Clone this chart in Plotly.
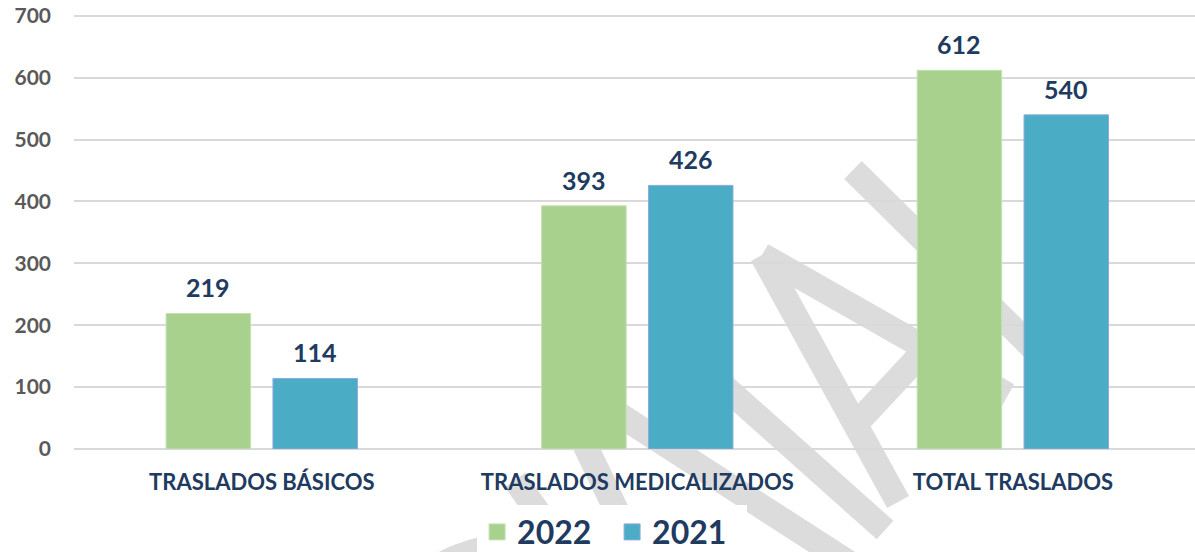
import plotly.graph_objects as go

categories = ["TRASLADOS BÁSICOS", "TRASLADOS MEDICALIZADOS", "TOTAL TRASLADOS"]
years = ["2022", "2021"]
values_2022 = [219, 393, 612]
values_2021 = [114, 426, 540]
y_ticks = [0, 100, 200, 300, 400, 500, 600, 700]

GREEN = "#A9D18E"
BLUE = "#4BACC6"
NAVY = "#203A60"
FONT = "Lato"

# plot area in pixels (used only for the watermark decoration)
PX_L, PX_W, PX_B, PX_H = 74, 1121, 449, 435


def px(x, y):
    return (x - PX_L) / PX_W, (PX_B - y) / PX_H


def stroke(points):
    pts = [px(x, y) for x, y in points]
    d = "M" + " L".join(f"{a:.4f},{b:.4f}" for a, b in pts)
    return dict(type="path", path=d, xref="paper", yref="paper", layer="below",
                line=dict(color="#DCDCDC", width=25))


fig = go.Figure()

for name, vals, color, edge in [("2022", values_2022, GREEN, "#C5E0B4"),
                                ("2021", values_2021, BLUE, "#8FAADC")]:
    fig.add_trace(go.Bar(
        x=categories, y=vals, name=name, showlegend=False,
        marker=dict(color=color, line=dict(color=edge, width=1)),
    ))
    # legend swatch
    fig.add_trace(go.Scatter(
        x=[None], y=[None], mode="markers", name=name,
        marker=dict(symbol="square", size=20, color=color, line=dict(color=edge, width=1)),
    ))

# data labels above bars
annotations = []
for vals, shift in [(values_2022, -53.4), (values_2021, 53.4)]:
    for c, v in zip(categories, vals):
        annotations.append(dict(
            x=c, y=v, text=f"<b>{v}</b>", showarrow=False, xshift=shift, yshift=9,
            yanchor="bottom", font=dict(family=FONT, size=25, color=NAVY),
        ))

# watermark strokes (faint grey, behind the chart)
shapes = [
    stroke([(853, 170), (1050, 365)]),
    stroke([(762, 255), (1008, 395)]),
    stroke([(762, 255), (898, 502)]),
    stroke([(925, 350), (855, 425)]),
    stroke([(700, 365), (885, 530)]),
    stroke([(612, 410), (860, 570)]),
    stroke([(585, 445), (645, 570)]),
    stroke([(515, 480), (580, 570)]),
]
cx0, cy0 = px(520 - 167, 712 - 167)
cx1, cy1 = px(520 + 167, 712 + 167)
shapes.append(dict(type="circle", xref="paper", yref="paper", layer="below",
                   x0=cx0, y0=cy0, x1=cx1, y1=cy1,
                   line=dict(color="#DCDCDC", width=25)))

fig.update_layout(
    width=1195, height=552,
    barmode="group", bargap=0.431, bargroupgap=0.209,
    paper_bgcolor="white", plot_bgcolor="rgba(0,0,0,0)",
    margin=dict(l=74, r=0, t=14, b=103, autoexpand=False),
    font=dict(family=FONT),
    xaxis=dict(
        range=[-0.5, 2.485], showgrid=False, showline=False, zeroline=False,
        automargin=False,
        tickfont=dict(family=FONT, size=22, color=NAVY, weight="bold"), ticklabelstandoff=18,
    ),
    yaxis=dict(
        range=[0, 703], tickvals=y_ticks, showgrid=True, gridcolor="#D9D9D9", gridwidth=1.5,
        zeroline=True, zerolinecolor="#D9D9D9", zerolinewidth=1.5, showline=False,
        automargin=False, ticklabeloverflow="allow",
        tickfont=dict(family=FONT, size=21, color="#595959", weight="bold"), ticklabelstandoff=22,
    ),
    legend=dict(
        orientation="h", x=0.48, xanchor="center", y=-0.191, yanchor="middle",
        font=dict(family=FONT, size=32, color=NAVY, weight="bold"),
        entrywidth=90, itemwidth=30,
    ),
    annotations=annotations,
    shapes=shapes,
)

# drop the default page margin so the figure sits at the window corner
fig.write_html("out.html", config={"displayModeBar": False},
               post_script="document.body.style.margin='0';")
